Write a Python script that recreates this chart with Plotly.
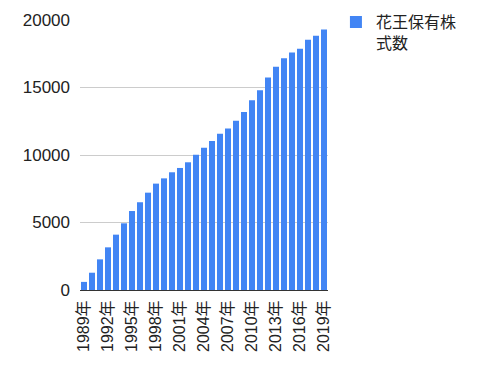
import plotly.graph_objects as go

years = [f"{y}年" for y in range(1989, 2020)]
shares = [600, 1280, 2270, 3160, 4100, 4940, 5850, 6500, 7210, 7880,
          8270, 8720, 9040, 9460, 10020, 10540, 11040, 11580, 11970, 12540,
          13180, 14050, 14790, 15750, 16540, 17160, 17600, 17870, 18540, 18840, 19290]
tick_labels = years[::3]
y_ticks = [0, 5000, 10000, 15000, 20000]
y_tick_text = ["0", "5000", "10000", "15000", "20000"]

fig = go.Figure(go.Bar(
    x=years, y=shares, name="花王保有株<br>式数",
    marker=dict(color="#4285F4", line=dict(width=0)),
    showlegend=True,
))
fig.update_layout(
    width=500, height=379,
    margin=dict(l=72, r=180, t=12, b=97, autoexpand=False),
    paper_bgcolor="white", plot_bgcolor="white",
    bargap=0.25,
    font=dict(family="Liberation Sans, Noto Sans CJK JP, sans-serif", color="#222"),
    legend=dict(x=1.032, y=1.055, xanchor="left", yanchor="top", valign="top",
                font=dict(size=16, color="#222"), itemsizing="constant"),
    xaxis=dict(tickmode="array", tickvals=tick_labels, ticktext=tick_labels,
               tickangle=-90, tickfont=dict(size=16), showgrid=False,
               showline=True, linecolor="#333", linewidth=1, ticks="",
               ticklabelstandoff=3, automargin=False),
    yaxis=dict(range=[0, 20000], tickvals=y_ticks, ticktext=y_tick_text,
               tickfont=dict(size=17), automargin=False,
               gridcolor="#cccccc", zeroline=False, ticks="", ticklabelstandoff=9),
)
fig.write_html("out.html")
